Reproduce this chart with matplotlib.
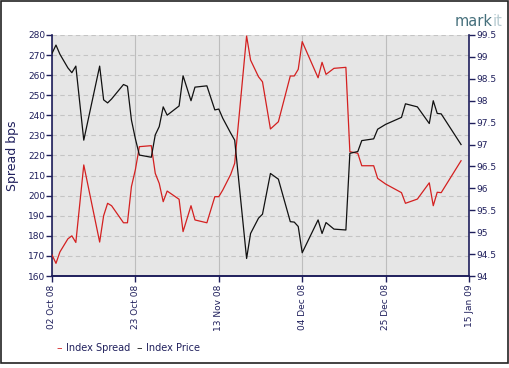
import numpy as np
import pandas as pd
import matplotlib
matplotlib.use("Agg")
import matplotlib.pyplot as plt
from matplotlib.patches import Rectangle

# days after 02 Oct 08 at each line vertex
day_offset = [0, 1, 2, 4, 5, 6, 8, 12, 13, 14, 15, 18, 19, 20, 21, 22, 25, 26, 27, 28, 29,
              32, 33, 35, 36, 39, 41, 42, 43, 45, 46, 49, 50, 52, 53, 55, 57, 60, 61, 62, 63,
              67, 68, 69, 71, 74, 75, 77, 78, 81, 82, 84, 88, 89, 92, 95, 96, 97, 98, 103]

index_spread = [170.5, 166.3, 172, 178.5, 180, 176.7, 215.3, 176.9, 190, 196.2, 195, 186.5, 186.5,
                204.5, 213, 224.4, 224.9, 211.1, 206.1, 197, 202.3, 198.2, 182.1, 195, 187.9,
                186.5, 199.5, 199.5, 202.8, 210.6, 216.1, 279.5, 267.5, 259.2, 256.7, 233.2, 236.8,
                259.6, 259.6, 262.9, 276.7, 258.7, 266.4, 260.4, 263.4, 263.9, 221.9, 221.1, 214.9,
                214.9, 208.6, 205.8, 201.5, 196.2, 198.3, 206.4, 195, 201.7, 201.5, 217.4]

index_price = [99.08, 99.27, 99.06, 98.75, 98.64, 98.79, 97.10, 98.79, 98.02, 97.95, 98.04, 98.37,
               98.33, 97.56, 97.13, 96.76, 96.71, 97.22, 97.41, 97.86, 97.67, 97.88, 98.57, 98.0,
               98.31, 98.34, 97.79, 97.81, 97.60, 97.26, 97.10, 94.40, 94.97, 95.32, 95.41, 96.34,
               96.21, 95.24, 95.23, 95.13, 94.53, 95.28, 94.97, 95.22, 95.07, 95.05, 96.80, 96.84,
               97.09, 97.13, 97.35, 97.46, 97.62, 97.93, 97.86, 97.48, 98.0, 97.71, 97.70, 97.0]

tick_dates = ['2008-10-02', '2008-10-23', '2008-11-13', '2008-12-04', '2008-12-25', '2009-01-15']
tick_labels = ['02 Oct 08', '23 Oct 08', '13 Nov 08', '04 Dec 08', '25 Dec 08', '15 Jan 09']

dates = pd.Timestamp('2008-10-02') + pd.to_timedelta(day_offset, unit='D')
ticks = pd.to_datetime(tick_dates)

navy = '#1f1f5c'
plt.rcParams['font.family'] = 'DejaVu Sans'

fig = plt.figure(figsize=(5.1, 3.68), dpi=100)
fig.patch.set_facecolor('white')
ax = fig.add_axes([52 / 510, 92 / 368, 417 / 510, 241 / 368])
ax.set_facecolor('#e6e6e6')

ax.plot(dates, index_spread, color='#d42020', lw=0.9, zorder=3)
ax.set_ylim(160, 280)
ax.set_yticks(np.arange(160, 281, 10))
ax.set_xlim(ticks[0], ticks[-1])
ax.set_xticks(ticks)
ax.set_xticklabels(tick_labels, rotation=90)

ax2 = ax.twinx()
ax2.plot(dates, index_price, color='#111111', lw=0.9, zorder=3)
ax2.set_ylim(94, 99.5)
ax2.set_yticks(np.arange(94, 99.51, 0.5))
ax2.set_yticklabels(['94', '94.5', '95', '95.5', '96', '96.5', '97', '97.5', '98', '98.5', '99', '99.5'])

ax.grid(axis='y', color='#c4c4c4', ls=(0, (4, 3)), lw=0.8)
ax.grid(axis='x', color='#bdbdbd', ls='-', lw=0.8)
ax.set_axisbelow(True)

for a in (ax, ax2):
    a.spines['top'].set_visible(False)
    for s in ('left', 'right', 'bottom'):
        a.spines[s].set_color(navy)
        a.spines[s].set_linewidth(1.2)
    a.tick_params(colors=navy, labelsize=6.5, length=4, width=1, pad=1)
ax2.spines['left'].set_visible(False)
ax.spines['right'].set_visible(False)
ax.tick_params(axis='x', pad=2)

ax.set_ylabel('Spread bps', color=navy, fontsize=9, labelpad=6)

# legend
ly = 1 - 348 / 368
fig.text(59 / 510, ly, '–', color='#d42020', fontsize=8, va='center', ha='center')
fig.text(66 / 510, ly, 'Index Spread', color=navy, fontsize=7, va='center')
fig.text(139 / 510, ly, '–', color='#111111', fontsize=8, va='center', ha='center')
fig.text(146 / 510, ly, 'Index Price', color=navy, fontsize=7, va='center')

# logo
t1 = fig.text(455 / 510, 1 - 26 / 368, 'mark', color='#46707c', fontsize=10.5, va='baseline')
ax.annotate('it', xy=(1, 0), xycoords=t1, va='bottom', ha='left', color='#b8ccd2',
            fontsize=10.5, annotation_clip=False)

# outer frame
fig.patches.append(Rectangle((1 / 510, 5 / 368), 507 / 510, 362 / 368, transform=fig.transFigure,
                             fill=False, edgecolor='#222222', lw=1.2))

fig.savefig('out.png', dpi=100)
